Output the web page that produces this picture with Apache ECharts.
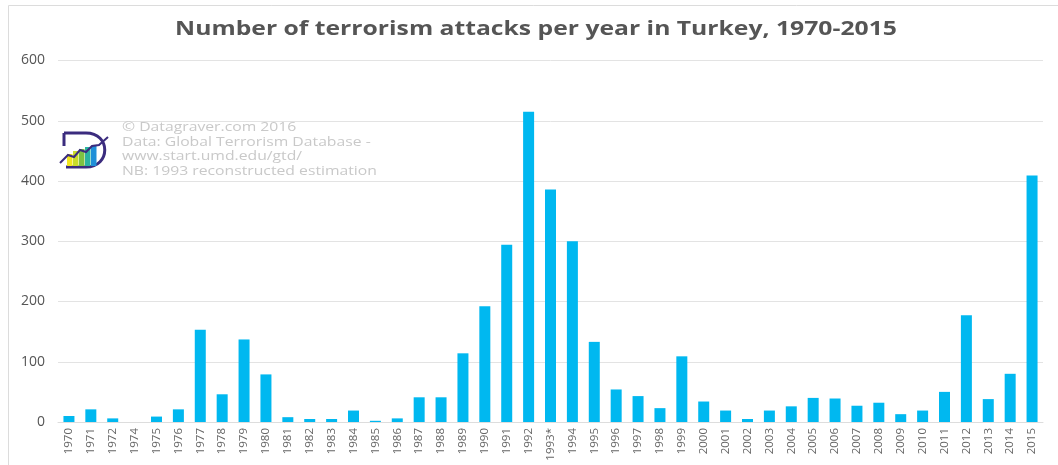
<!DOCTYPE html>
<html>
<head>
<meta charset="utf-8">
<script src="https://cdn.jsdelivr.net/npm/echarts@6/dist/echarts.min.js"></script>
<style>
html,body{margin:0;padding:0;background:#fff;}
#c{width:1058px;height:465px;}
</style>
</head>
<body>
<div id="c"></div>
<script>
const years = ['1970','1971','1972','1974','1975','1976','1977','1978','1979','1980',
  '1981','1982','1983','1984','1985','1986','1987','1988','1989','1990',
  '1991','1992','1993*','1994','1995','1996','1997','1998','1999','2000',
  '2001','2002','2003','2004','2005','2006','2007','2008','2009','2010',
  '2011','2012','2013','2014','2015'];
const attacks = [10,21,6,0,9,21,153,46,137,79,
  8,5,5,19,2,6,41,41,114,192,
  294,515,386,300,133,54,43,23,109,34,
  19,5,19,26,40,39,27,32,13,19,
  50,177,38,80,409];
const yTicks = [0,100,200,300,400,500,600];
const titleText = 'Number of terrorism attacks per year in Turkey, 1970-2015';
const watermark = ['© Datagraver.com 2016','Data: Global Terrorism Database -','www.start.umd.edu/gtd/','NB: 1993 reconstructed estimation'];

const chart = echarts.init(document.getElementById('c'));
const logoBars = [
  {x:67, h:12, c:'#f2e61e'},
  {x:73, h:15, c:'#c9dc2a'},
  {x:79, h:17, c:'#7fc241'},
  {x:85, h:19, c:'#2bb3a0'},
  {x:91, h:20, c:'#1f8fd8'}
];
const graphics = [
  {type:'rect', shape:{x:8.5,y:5.5,width:1070,height:480}, style:{fill:'none',stroke:'#dcdcdc',lineWidth:1}, z:0, silent:true},
  {type:'text', x:536, y:30, scaleX:1.3, style:{text:titleText, fill:'#555', font:'bold 19px "Open Sans", sans-serif', textAlign:'center', textVerticalAlign:'middle'}, z:5}
];
watermark.forEach((t,i)=>{
  graphics.push({type:'text', x:122, y:121+i*14.5, scaleX:1.21, style:{text:t, fill:'#c9c9c9', font:'13px "Open Sans", sans-serif', textVerticalAlign:'top'}, z:1, silent:true});
});
graphics.push({type:'polyline', shape:{points:[[64,133],[86,133]]}, style:{stroke:'#3b2c7e',lineWidth:3,fill:'none'}, z:2});
graphics.push({type:'bezierCurve', shape:{x1:86,y1:133,x2:86,y2:167,cpx1:111,cpy1:133,cpx2:111,cpy2:167}, style:{stroke:'#3b2c7e',lineWidth:3,fill:'none'}, z:2});
graphics.push({type:'polyline', shape:{points:[[86,167],[66,167]]}, style:{stroke:'#3b2c7e',lineWidth:3,fill:'none'}, z:2});
graphics.push({type:'polyline', shape:{points:[[64,133],[64,146]]}, style:{stroke:'#3b2c7e',lineWidth:3,fill:'none'}, z:2});
logoBars.forEach(b=>{
  graphics.push({type:'rect', shape:{x:b.x,y:166-b.h,width:5.5,height:b.h}, style:{fill:b.c}, z:3});
});
graphics.push({type:'polyline', shape:{points:[[60,163],[68,155],[74,157],[80,150],[86,152],[92,146],[99,145],[108,137]]}, style:{stroke:'#3b2c7e',lineWidth:2,fill:'none'}, z:4});

chart.setOption({
  animation:false,
  backgroundColor:'#fff',
  graphic:{elements:graphics},
  grid:{left:58, right:15, top:60.5, bottom:43, containLabel:false},
  xAxis:{
    type:'category', data:years,
    axisTick:{show:false},
    axisLine:{lineStyle:{color:'#dddddd'}},
    axisLabel:{rotate:90, interval:0, color:'#666', fontSize:11.5, fontFamily:'"Open Sans", sans-serif', margin:6}
  },
  yAxis:{
    type:'value', min:yTicks[0], max:yTicks[yTicks.length-1], interval:100,
    axisLine:{show:false}, axisTick:{show:false},
    axisLabel:{color:'#555', fontSize:14, fontFamily:'"Open Sans", sans-serif', margin:13},
    splitLine:{lineStyle:{color:'#e3e3e3'}}
  },
  series:[{
    type:'bar', data:attacks, barWidth:11,
    itemStyle:{color:'#00b8f0'}
  }]
});
</script>
</body>
</html>
